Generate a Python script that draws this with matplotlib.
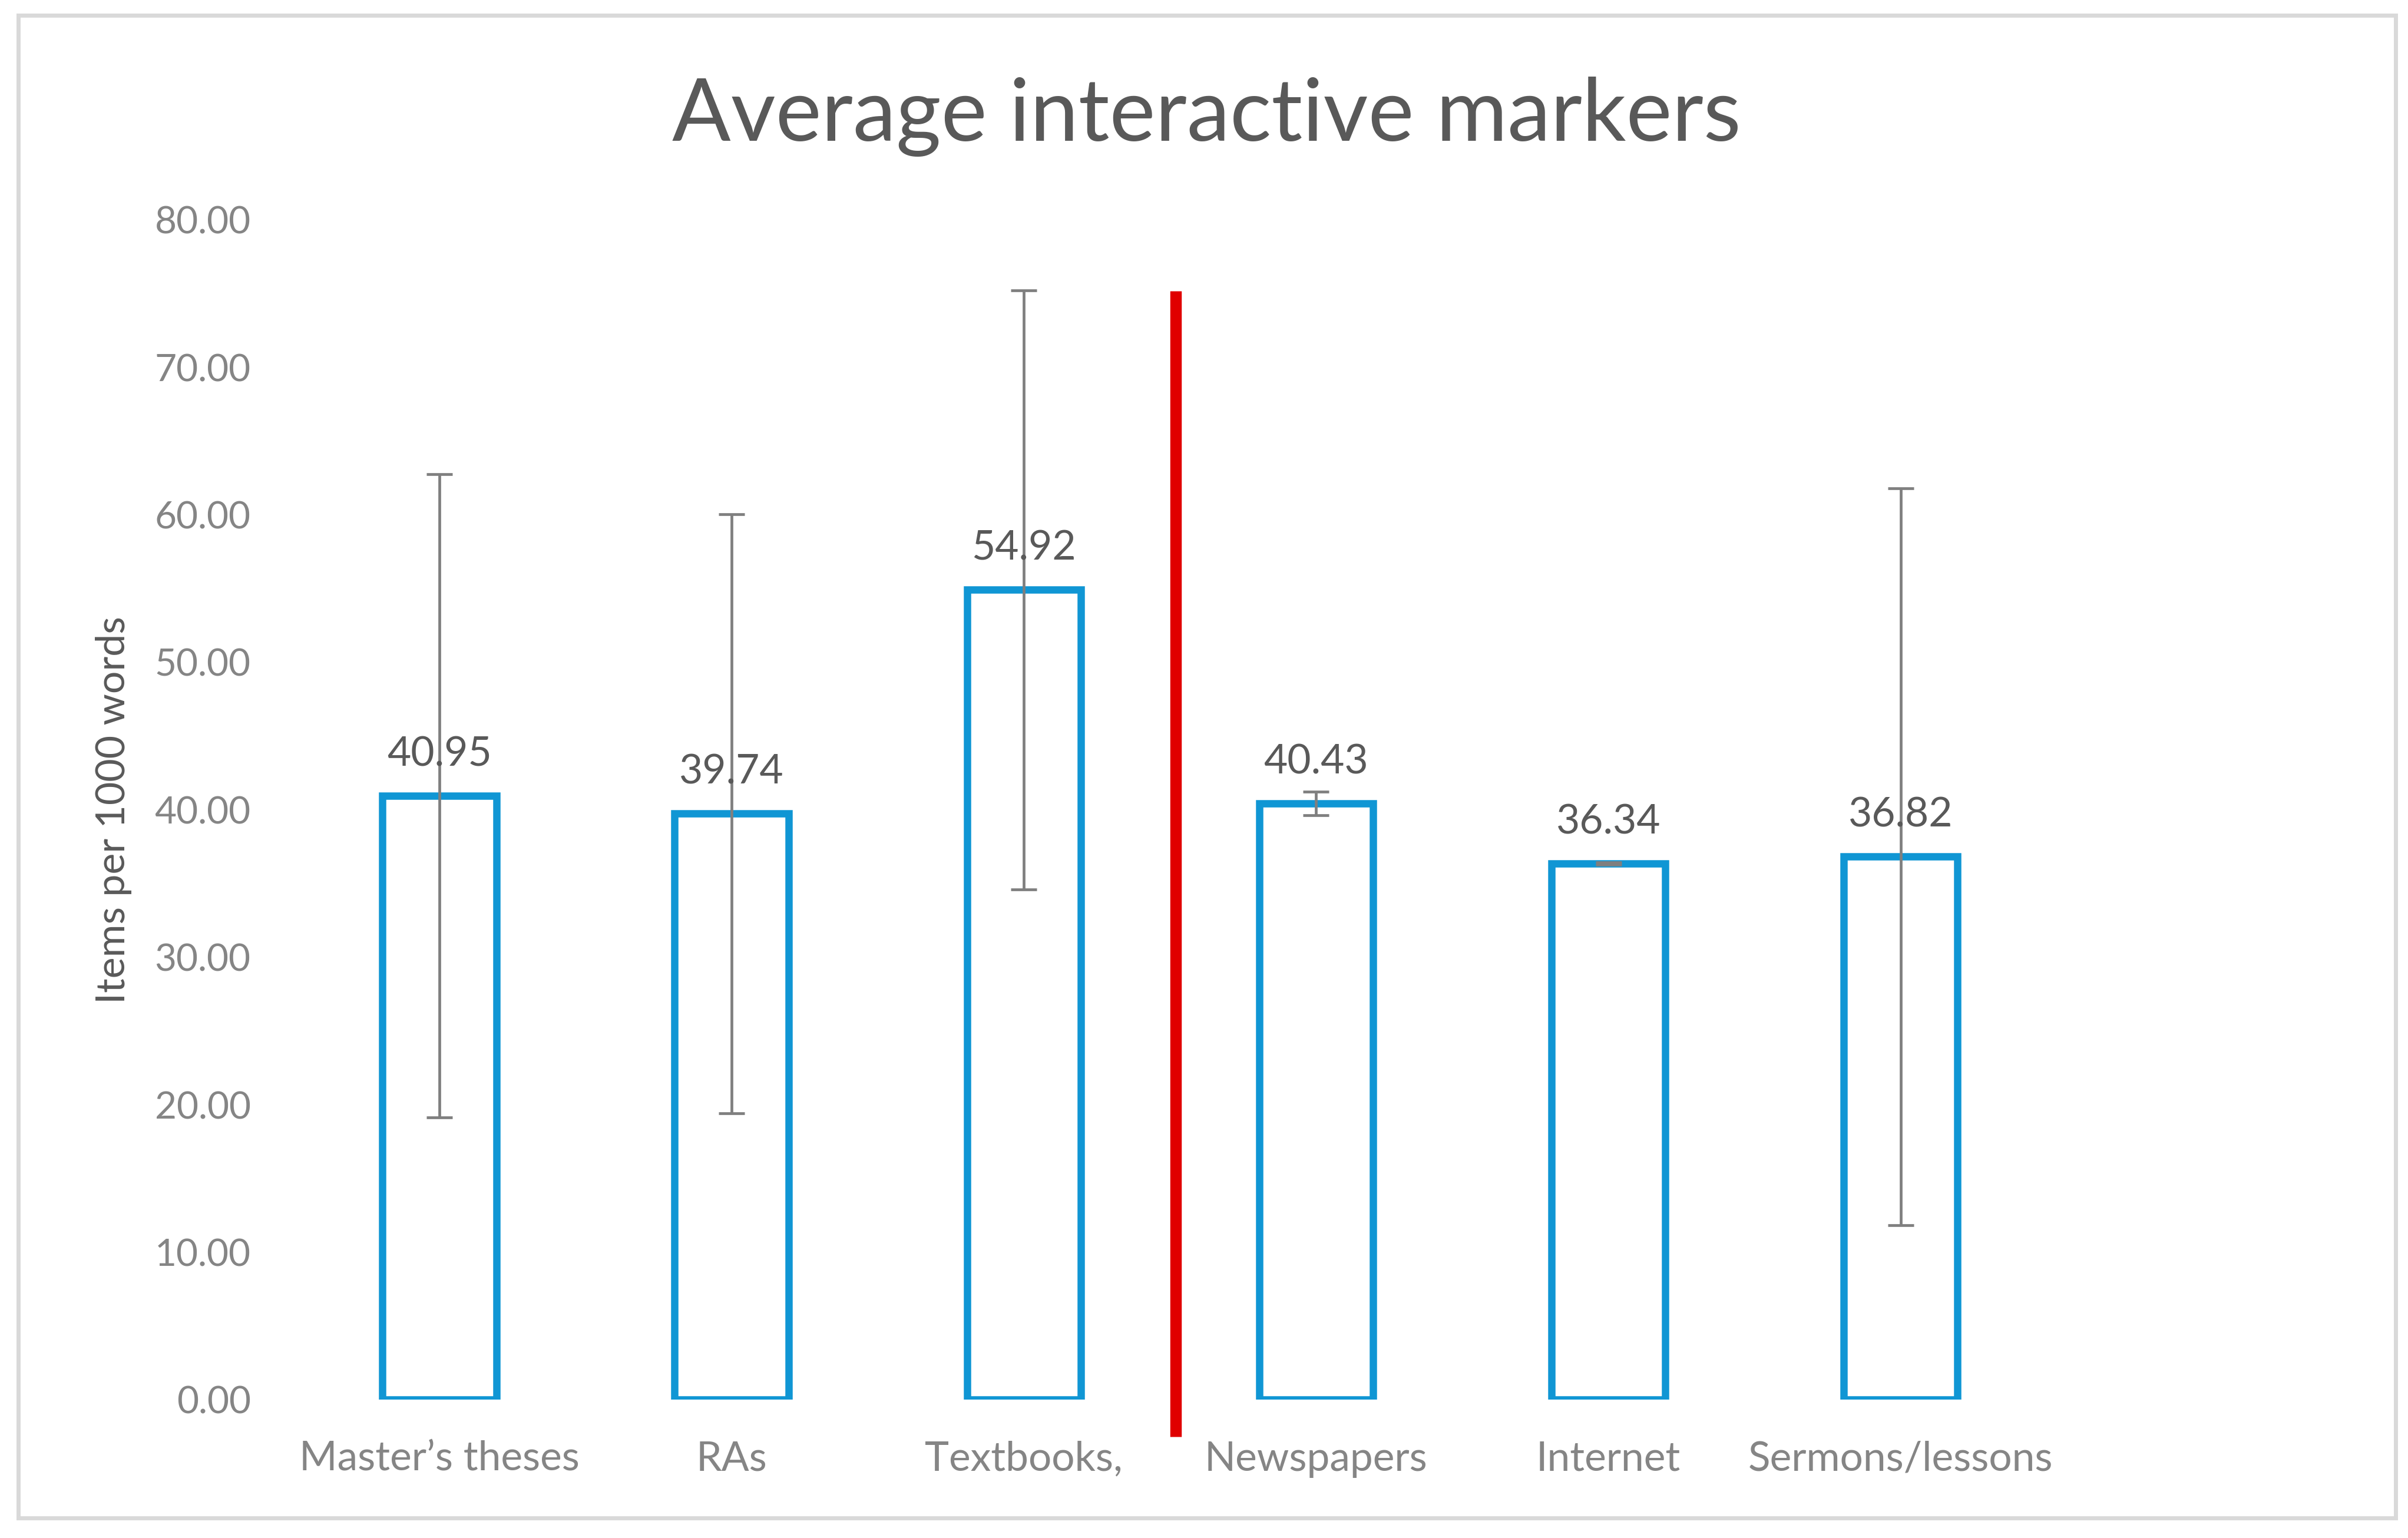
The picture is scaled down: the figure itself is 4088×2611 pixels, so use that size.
import matplotlib.pyplot as plt
from matplotlib.patches import Rectangle

# Data
CATEGORIES = ["Master\u2019s theses", "RAs", "Textbooks,", "Newspapers", "Internet", "Sermons/lessons"]
MEANS = [40.95, 39.74, 54.92, 40.43, 36.34, 36.82]
ERRORS = [21.8, 20.3, 20.3, 0.8, 0.08, 25.0]
Y_TICKS = [0, 10, 20, 30, 40, 50, 60, 70, 80]

# red divider between written-academic and other genres
DIVIDER_X = 2.52
DIVIDER_TOP = 75.2
DIVIDER_BOTTOM = -2.5

BLUE = "#1096D4"
GREY_ERR = "#7F7F7F"
TEXT_DARK = "#595959"
TEXT_LIGHT = "#858585"
RED = "#E00000"

plt.rcParams['font.family'] = ['Lato', 'DejaVu Sans']

fig = plt.figure(figsize=(20.44, 13.055), dpi=200)
ax = fig.add_axes([0.1218, 0.0899, 0.7282, 0.7671])

x = list(range(len(CATEGORIES)))
ax.bar(x, MEANS, width=0.39, facecolor="white", edgecolor=BLUE, linewidth=4.5, zorder=2)
ax.errorbar(x, MEANS, yerr=ERRORS, fmt="none", ecolor=GREY_ERR, elinewidth=1.7,
            capsize=8, capthick=1.7, zorder=3)

for xi, m in zip(x, MEANS):
    ax.annotate(f"{m:.2f}", (xi, m), xytext=(0, 14), textcoords="offset points",
                ha="center", va="bottom", fontsize=25, color=TEXT_DARK, zorder=4)

ax.plot([DIVIDER_X, DIVIDER_X], [DIVIDER_BOTTOM, DIVIDER_TOP], color=RED,
        linewidth=7, solid_capstyle="butt", clip_on=False, zorder=5)

ax.set_xlim(-0.5, len(CATEGORIES) - 0.5)
ax.set_ylim(0, 80)
ax.set_yticks(Y_TICKS)
ax.set_yticklabels([f"{t:.2f}" for t in Y_TICKS])
ax.set_xticks(x)
ax.set_xticklabels(CATEGORIES)
ax.tick_params(axis="y", length=0, pad=26, labelsize=23, labelcolor=TEXT_LIGHT)
ax.tick_params(axis="x", length=0, pad=25, labelsize=25, labelcolor=TEXT_LIGHT)
for s in ax.spines.values():
    s.set_visible(False)

ax.set_ylabel("Items per 1000 words", fontsize=24.5, color=TEXT_DARK)
ax.yaxis.set_label_coords(-0.092, 0.5)

fig.text(0.501, 0.924, "Average interactive markers", ha="center", va="center",
         fontsize=53, color=TEXT_DARK)

# chart border
fig.patches.append(Rectangle((12 / 1568, 1 - 988 / 1001), (1560 - 12) / 1568, (988 - 10) / 1001,
                             transform=fig.transFigure, fill=False, edgecolor="#D9D9D9",
                             linewidth=2.5))

fig.savefig("out.png", dpi=200, facecolor="white")
